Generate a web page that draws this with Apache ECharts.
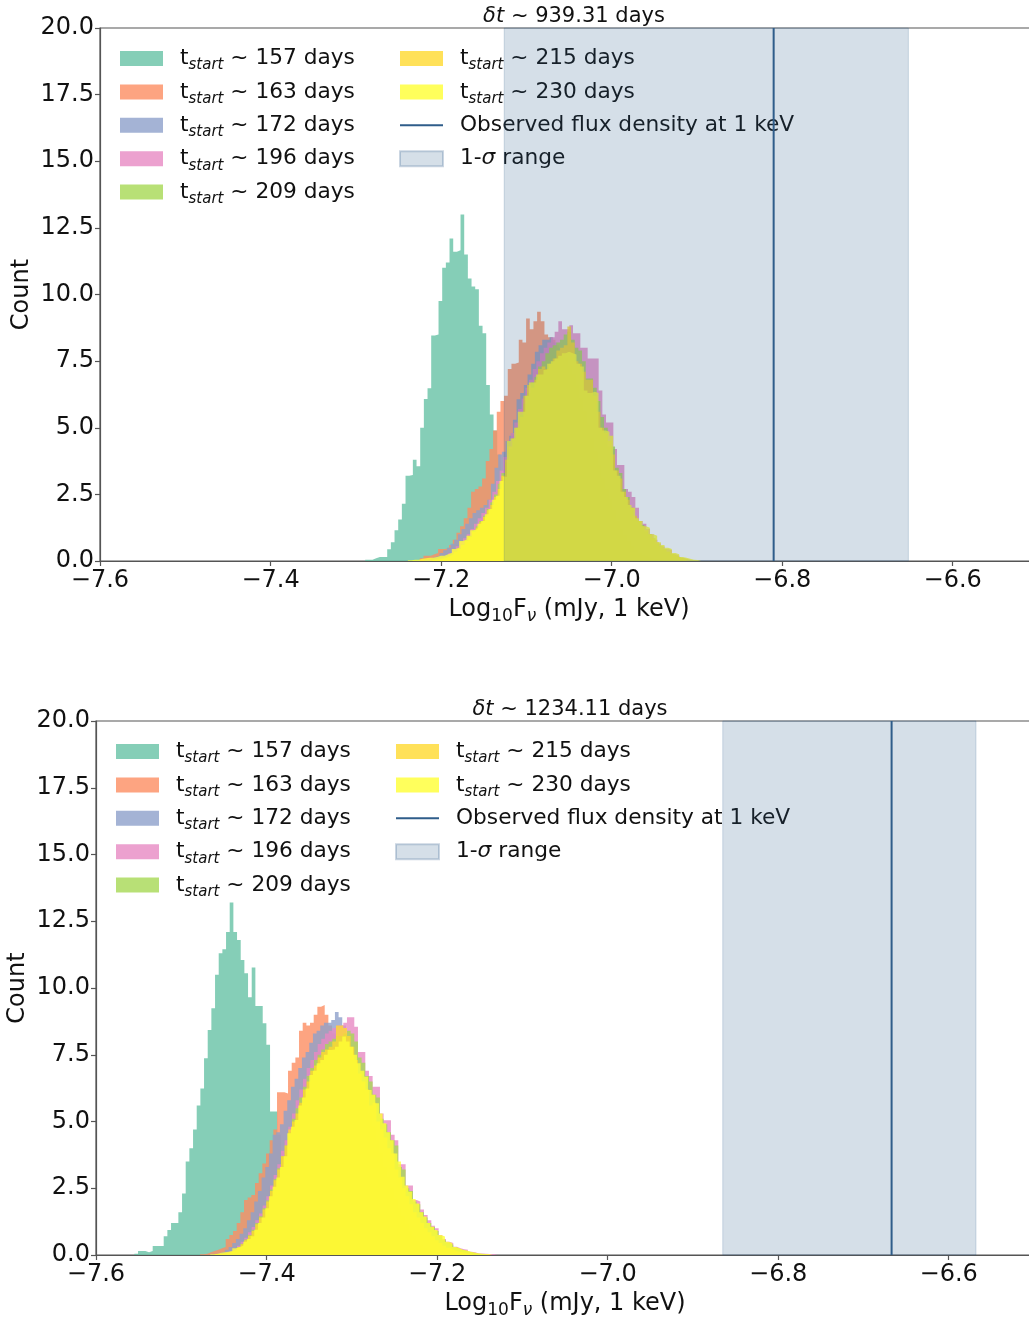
<!DOCTYPE html>
<html>
<head>
<meta charset="utf-8">
<script src="https://cdn.jsdelivr.net/npm/echarts@6/dist/echarts.min.js"></script>
<style>
  html, body { margin: 0; padding: 0; background: #fff; }
  #chart { width: 1029px; height: 1321px; }
</style>
</head>
<body>
<div id="chart"></div>
<script>
// every histogram uses the same bin width (log10 units)
const binWidth = 0.0043;
const startDays = [157, 163, 172, 196, 209, 215, 230];
const colors = ['#66c2a5', '#fc8d62', '#8da0cb', '#e78ac3', '#a6d854', '#ffd92f', '#ffff33'];
const lineColor = '#2f5d8a';

// upper panel: dt ~ 939.31 days
const topTitle = '939.31 days';
const topStarts = [-7.289, -7.225, -7.219, -7.213, -7.211, -7.211, -7.239];
const top157 = [0.05,0.05,0.1,0.15,0.15,0.15,0.44,0.7,1.15,1.56,2.15,3.2,3.23,3.8,3.56,5.0,6.08,6.48,8.46,8.5,9.76,11.0,11.2,12.1,11.6,11.66,13.0,11.5,10.6,10.3,10.2,8.83,8.55,6.6,5.5,4.9,4.0,3.1,2.4,1.8,1.3,0.9,0.6,0.4,0.25,0.15,0.1,0.05];
const top163 = [0.1,0.2,0.2,0.25,0.3,0.45,0.45,0.5,0.6,0.8,1.06,1.3,1.6,2.0,2.6,2.7,2.8,3.1,3.75,4.2,4.9,5.6,6.0,6.2,7.2,7.4,7.45,8.3,8.2,9.1,8.7,9.0,9.35,9.0,8.5,8.4,8.3,8.1,7.8,7.4,7.0,6.6,6.1,5.6,5.0,4.5,4.0,3.5,3.0,2.6,2.2,1.8,1.5,1.2,0.95,0.75,0.55,0.4,0.3,0.2,0.15,0.1,0.06,0.03];
const top172 = [0.05,0.1,0.15,0.2,0.3,0.4,0.5,0.65,0.8,1.0,1.2,1.4,1.6,1.8,1.9,2.0,2.1,2.3,2.9,3.5,4.0,4.1,4.5,4.7,5.3,6.07,6.3,6.6,7.0,7.4,7.85,8.1,8.3,8.3,8.4,8.2,8.0,7.8,7.6,7.3,7.0,6.6,6.1,5.6,5.1,4.6,4.1,3.6,3.1,2.7,2.3,1.9,1.5,1.2,0.95,0.75,0.55,0.4,0.3,0.2,0.15,0.1,0.06,0.03];
const top196 = [0.05,0.08,0.1,0.15,0.2,0.3,0.4,0.55,0.7,0.85,1.0,1.2,1.4,1.6,1.8,2.0,2.3,2.6,3.0,3.4,3.9,4.3,4.8,5.2,5.7,6.1,6.5,6.8,7.2,7.5,7.8,8.0,8.2,8.4,8.6,9.0,8.7,8.7,8.85,8.55,8.55,8.0,8.0,7.6,7.6,7.6,6.4,5.5,5.2,5.2,4.2,3.6,3.6,2.7,2.6,2.4,2.0,1.5,1.4,1.2,1.0,0.8,0.66,0.54,0.45,0.4,0.25,0.2,0.12,0.08,0.05];
const top209 = [0.05,0.08,0.1,0.15,0.2,0.28,0.38,0.5,0.62,0.8,0.95,1.15,1.3,1.5,1.7,1.95,2.2,2.5,2.9,3.3,3.7,4.2,4.6,5.0,5.5,5.9,6.3,6.7,6.9,7.3,7.5,7.8,8.0,8.1,8.2,8.3,8.5,8.6,8.3,8.0,7.9,7.5,6.85,6.85,6.5,6.0,5.4,5.0,4.3,4.3,3.5,3.3,2.7,2.4,2.0,1.6,1.5,1.35,1.1,1.0,0.85,0.65,0.55,0.45,0.35,0.25,0.18,0.12,0.08,0.05];
const top215 = [0.04,0.06,0.08,0.12,0.18,0.25,0.35,0.45,0.6,0.75,0.9,1.1,1.25,1.45,1.65,1.9,2.1,2.4,2.7,3.2,3.8,4.3,4.6,5.0,5.4,6.2,6.6,6.5,6.8,7.2,7.3,7.2,7.4,7.6,7.9,8.0,8.1,8.8,8.2,7.5,7.4,7.1,6.8,6.8,6.2,5.6,5.0,4.8,4.5,4.0,3.4,3.1,2.6,2.3,2.0,1.7,1.5,1.3,1.15,1.0,0.85,0.7,0.55,0.45,0.35,0.25,0.18,0.12,0.08,0.05];
const top230 = [0.03,0.05,0.05,0.08,0.1,0.12,0.12,0.15,0.2,0.2,0.25,0.3,0.45,0.5,0.75,0.8,0.95,1.15,1.2,1.4,1.5,1.75,1.95,2.3,2.45,3.0,3.16,4.5,4.6,5.0,5.6,5.6,6.2,6.7,6.7,7.0,7.0,7.17,7.4,7.5,7.6,7.7,7.8,7.85,7.8,7.75,7.4,7.3,6.4,6.3,6.35,6.3,5.0,4.9,4.85,4.7,3.4,3.2,2.6,2.4,2.1,2.0,1.6,1.5,1.3,1.25,1.0,0.95,0.7,0.6,0.5,0.45,0.3,0.25,0.15,0.12,0.08,0.05,0.04,0.03];
const topObserved = -6.810;
const topSigma = [-7.126, -6.652];

// lower panel: dt ~ 1234.11 days
const botTitle = '1234.11 days';
const botStarts = [-7.555, -7.478, -7.466, -7.4605, -7.4605, -7.4605, -7.466];
const bot157 = [0.05,0.15,0.15,0.1,0.15,0.34,0.34,0.34,0.7,0.94,1.2,1.2,1.6,2.3,3.5,4.0,4.7,5.6,6.24,7.37,8.43,9.24,10.5,11.3,11.45,12.1,13.2,12.1,11.8,11.05,10.55,9.65,10.77,9.33,9.33,8.68,7.87,5.37,5.37,4.5,3.8,3.0,2.3,1.8,1.3,0.9,0.65,0.45,0.3,0.2,0.12,0.08,0.05];
const bot163 = [0.03,0.05,0.1,0.15,0.2,0.25,0.3,0.6,0.75,0.9,1.2,1.6,2.06,2.15,2.25,2.7,3.06,3.43,3.8,4.3,4.7,6.1,6.1,6.05,6.9,7.2,7.4,8.4,8.7,8.6,8.7,9.0,9.3,9.36,9.0,8.6,8.3,8.0,7.6,7.2,6.8,6.3,5.9,5.4,4.9,4.4,3.9,3.4,3.0,2.6,2.2,1.8,1.5,1.2,0.95,0.75,0.55,0.4,0.3,0.2,0.12,0.08,0.05,0.03];
const bot172 = [0.03,0.05,0.08,0.12,0.2,0.3,0.45,0.6,0.8,1.0,1.3,1.6,2.0,2.4,2.9,3.3,3.8,4.5,4.6,4.9,5.4,5.8,6.3,6.6,7.0,7.4,7.6,7.95,8.3,8.4,8.6,8.7,8.7,8.8,9.1,8.9,8.6,8.2,7.8,7.3,6.8,6.3,5.8,5.3,4.8,4.3,3.8,3.3,2.9,2.5,2.1,1.75,1.45,1.15,0.9,0.7,0.5,0.35,0.25,0.15,0.1,0.06,0.03];
const bot196 = [0.03,0.05,0.08,0.12,0.18,0.25,0.35,0.5,0.65,0.85,1.05,1.3,1.55,1.85,2.2,2.6,3.0,3.4,3.9,4.3,4.8,5.3,5.8,6.2,6.6,7.0,7.3,7.6,7.9,8.1,8.3,8.4,8.5,8.6,8.6,8.7,8.9,8.9,8.55,7.6,7.6,6.9,6.7,6.3,6.3,5.3,5.05,5.05,4.5,4.3,3.4,3.4,2.6,2.6,2.06,2.0,1.7,1.5,1.3,1.1,1.0,0.75,0.6,0.5,0.45,0.31,0.25,0.22,0.2,0.12,0.1,0.06,0.06,0.05,0.04,0.04,0.03];
const bot209 = [0.03,0.04,0.07,0.1,0.15,0.22,0.3,0.42,0.58,0.75,0.95,1.2,1.45,1.75,2.05,2.45,2.85,3.25,3.7,4.1,4.6,5.1,5.5,5.9,6.3,6.7,7.0,7.3,7.5,7.7,7.9,8.0,8.1,8.2,8.2,8.3,8.4,8.3,8.0,7.4,7.2,6.7,6.5,6.0,5.9,5.1,4.9,4.6,4.3,4.1,3.3,3.2,2.5,2.4,2.0,1.9,1.6,1.4,1.2,1.05,0.9,0.7,0.55,0.45,0.38,0.28,0.22,0.18,0.14,0.1,0.07,0.05,0.04,0.03];
const bot215 = [0.02,0.04,0.06,0.09,0.14,0.2,0.28,0.4,0.55,0.72,0.9,1.15,1.4,1.7,2.0,2.4,2.8,3.2,3.7,4.1,4.7,5.0,5.3,5.7,6.2,6.5,6.9,7.1,7.4,7.6,7.7,7.8,8.0,8.6,8.6,8.5,8.2,7.8,7.3,6.8,6.5,6.2,5.6,5.7,5.0,4.7,4.4,4.0,3.8,3.2,2.9,2.5,2.2,1.9,1.6,1.4,1.2,1.0,0.85,0.7,0.55,0.45,0.35,0.27,0.2,0.15,0.11,0.08,0.06,0.04,0.03];
const bot230 = [0.03,0.05,0.08,0.1,0.12,0.15,0.25,0.3,0.35,0.5,0.6,0.7,0.95,1.2,1.4,1.75,2.2,2.56,2.9,3.3,3.7,4.56,4.8,5.06,5.6,5.9,6.24,6.74,6.9,7.18,7.3,7.5,7.68,7.7,7.8,8.0,8.18,8.0,7.8,7.5,7.18,6.9,6.68,6.18,6.0,5.68,5.3,4.93,4.6,4.3,3.8,3.5,2.93,2.6,2.37,2.1,1.93,1.6,1.44,1.2,1.06,0.94,0.75,0.69,0.5,0.45,0.3,0.25,0.19,0.17,0.12,0.09,0.07,0.05,0.04,0.04,0.03];
const botObserved = -6.667;
const botSigma = [-6.865, -6.568];

const xTicks = { min: -7.6, max: -6.5, interval: 0.2 };
const yTicks = { min: 0, max: 20, interval: 2.5 };

const FONT = 'DejaVu Sans';
const INK = '#111';
const SPINE = '#555';
const OBS = 'Observed flux density at 1 keV';
const SIG = '1-σ range';

function rgba(hex, a) {
  const n = parseInt(hex.slice(1), 16);
  return `rgba(${(n >> 16) & 255},${(n >> 8) & 255},${n & 255},${a})`;
}

// step-shaped filled histogram from bin start + counts
function histSeries(idx, day, start, counts) {
  const pts = counts.map((c, i) => [start + i * binWidth, c]);
  pts.push([start + counts.length * binWidth, 0]);
  const c = rgba(colors[startDays.indexOf(day)], 0.8);
  return {
    name: 'd' + day, type: 'line', xAxisIndex: idx, yAxisIndex: idx, z: 2,
    data: pts, step: 'end', symbol: 'none', silent: true,
    itemStyle: { color: c },
    lineStyle: { width: 0 },
    areaStyle: { color: c, opacity: 1 }
  };
}

function panelSeries(idx, starts, counts, observed, sigma) {
  const out = startDays.map((d, k) => histSeries(idx, d, starts[k], counts[k]));
  // the 1-sigma band is drawn over the histograms, like axvspan
  out.push({
    name: SIG, type: 'custom', xAxisIndex: idx, yAxisIndex: idx, z: 5, silent: true,
    itemStyle: { color: rgba(lineColor, 0.2), borderColor: rgba(lineColor, 0.25), borderWidth: 1 },
    data: [[sigma[0], sigma[1], yTicks.max]],
    encode: { x: [0, 1], y: 2 },
    renderItem: function (params, api) {
      const p0 = api.coord([api.value(0), api.value(2)]);
      const p1 = api.coord([api.value(1), 0]);
      return {
        type: 'rect', z2: 10,
        shape: { x: p0[0], y: p0[1], width: p1[0] - p0[0], height: p1[1] - p0[1] },
        style: { fill: rgba(lineColor, 0.2), stroke: rgba(lineColor, 0.2), lineWidth: 1 }
      };
    }
  });
  out.push({
    name: OBS, type: 'line', xAxisIndex: idx, yAxisIndex: idx, z: 6,
    data: [[observed, 0], [observed, yTicks.max]], symbol: 'none', showSymbol: false, silent: true,
    lineStyle: { color: lineColor, width: 2 }, itemStyle: { color: lineColor }
  });
  return out;
}

const legendRich = {
  t: { fontFamily: FONT, fontSize: 21.7, color: INK, lineHeight: 28, padding: [0, 0, 0, 12] },
  s: { fontFamily: FONT, fontSize: 15, color: INK, fontStyle: 'italic', lineHeight: 14, padding: [14, 0, 0, 0] },
  n: { fontFamily: FONT, fontSize: 21.7, color: INK, lineHeight: 28 },
  i: { fontFamily: FONT, fontSize: 21.7, color: INK, lineHeight: 28, fontStyle: 'italic' }
};

function legendFormatter(name) {
  if (name[0] === 'd') return '{t|t}{s|start}{n| ~ ' + name.slice(1) + ' days}';
  if (name === SIG) return '{t|1-}{i|σ}{n| range}{s| }';
  return '{t|' + name + '}{s| }';
}

function legend(names, left, top) {
  return {
    data: names.map(n => n === OBS
      ? { name: n, icon: 'path://M0,0 L43,0 L43,2 L0,2 Z', itemStyle: { color: lineColor } }
      : { name: n, icon: 'rect' }),
    orient: 'vertical', left: left, top: top, padding: 0,
    itemWidth: 43, itemHeight: 15, itemGap: 4.4,
    selectedMode: false,
    formatter: legendFormatter,
    textStyle: { fontFamily: FONT, fontSize: 21.7, color: INK, rich: legendRich }
  };
}

const col1 = startDays.slice(0, 5).map(d => 'd' + d);
const col2 = startDays.slice(5).map(d => 'd' + d).concat([OBS, SIG]);

function titleOf(text, centerX, top) {
  return {
    text: '{i|δt}{n| ~ ' + text + '}', left: centerX, top: top, textAlign: 'center',
    textStyle: {
      fontWeight: 'normal',
      rich: {
        i: { fontFamily: FONT, fontSize: 21, color: INK, fontStyle: 'italic', fontWeight: 'normal' },
        n: { fontFamily: FONT, fontSize: 21, color: INK, fontWeight: 'normal' }
      }
    }
  };
}

function xAxisOf(idx) {
  return {
    type: 'value', gridIndex: idx, min: xTicks.min, max: xTicks.max, interval: xTicks.interval,
    name: '{n|Log}{sub|10}{n|F}{subi|ν}{n| (mJy, 1 keV)}', nameLocation: 'middle', nameGap: 34,
    nameMoveOverlap: false,
    nameTextStyle: {
      rich: {
        n: { fontFamily: FONT, fontSize: 24, color: INK, lineHeight: 30 },
        sub: { fontFamily: FONT, fontSize: 17, color: INK, lineHeight: 16, padding: [14, 0, 0, 0] },
        subi: { fontFamily: FONT, fontSize: 17, color: INK, fontStyle: 'italic', lineHeight: 16, padding: [14, 0, 0, 0] }
      }
    },
    axisLine: { show: true, onZero: false, lineStyle: { color: SPINE, width: 1.2 } },
    axisTick: { show: true, length: 5, lineStyle: { color: SPINE, width: 1.2 } },
    axisLabel: {
      fontFamily: FONT, fontSize: 24, color: INK, margin: 8, showMaxLabel: false,
      formatter: v => v.toFixed(1).replace('-', '\u2212')
    },
    splitLine: { show: false }
  };
}

function yAxisOf(idx) {
  return {
    type: 'value', gridIndex: idx, min: yTicks.min, max: yTicks.max, interval: yTicks.interval,
    name: 'Count', nameLocation: 'middle', nameGap: 66, nameMoveOverlap: false,
    nameTextStyle: { fontFamily: FONT, fontSize: 24, color: INK },
    axisLine: { show: true, lineStyle: { color: SPINE, width: 1.2 } },
    axisTick: { show: true, length: 5, lineStyle: { color: SPINE, width: 1.2 } },
    axisLabel: { fontFamily: FONT, fontSize: 24, color: INK, margin: 6, formatter: v => v.toFixed(1) },
    splitLine: { show: false }
  };
}

const gridBase = { width: 938, show: true, borderColor: SPINE, borderWidth: 1.2, backgroundColor: 'transparent', outerBoundsMode: 'none', containLabel: false };

const chart = echarts.init(document.getElementById('chart'), null, { renderer: 'canvas' });
chart.setOption({
  animation: false,
  backgroundColor: '#fff',
  title: [titleOf(topTitle, 569, 1), titleOf(botTitle, 565, 694)],
  grid: [
    Object.assign({ left: 100, top: 28, height: 533 }, gridBase),
    Object.assign({ left: 96, top: 721, height: 534 }, gridBase)
  ],
  xAxis: [xAxisOf(0), xAxisOf(1)],
  yAxis: [yAxisOf(0), yAxisOf(1)],
  legend: [legend(col1, 120, 44), legend(col2, 399, 44), legend(col1, 116, 737), legend(col2, 395, 737)],
  series: panelSeries(0, topStarts, [top157, top163, top172, top196, top209, top215, top230], topObserved, topSigma)
    .concat(panelSeries(1, botStarts, [bot157, bot163, bot172, bot196, bot209, bot215, bot230], botObserved, botSigma))
});
</script>
</body>
</html>
